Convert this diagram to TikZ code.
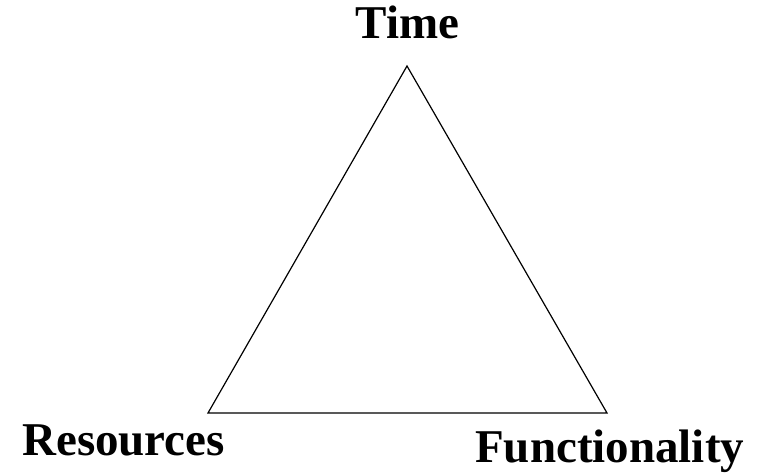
\documentclass[tikz,border=0pt]{standalone}
\usepackage{fontspec}
\setmainfont{Liberation Serif}
\tikzset{
	corner/.style={font=\fontsize{47}{56}\selectfont\bfseries, inner sep=0pt}
}
\begin{document}
\begin{tikzpicture}[x=1pt, y=1pt]
	\useasboundingbox (0,0) rectangle (762,472);
	
	\coordinate (top) at (407,406);
	\coordinate (left) at (208,59);
	\coordinate (right) at (607,59);
	\draw[line width=1.2pt, line join=miter] (top) -- (right) -- (left) -- cycle;
	
	\node[corner, anchor=base] (time) at (407.5,433) {Time};
	\node[corner, anchor=base west] (res) at (22,17) {Resources};
	\node[corner, anchor=base west] (func) at (475,10) {Functionality};
	\end{tikzpicture}
\end{document}
